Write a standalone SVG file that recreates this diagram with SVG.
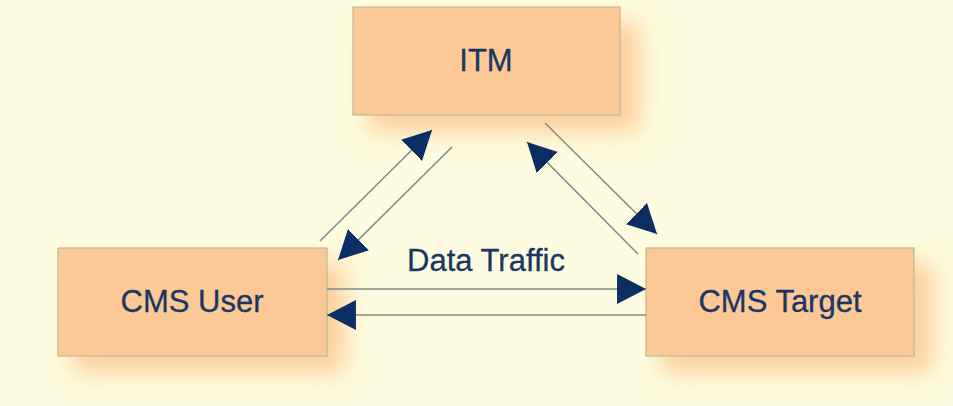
<svg xmlns="http://www.w3.org/2000/svg" width="953" height="406" viewBox="0 0 953 406">
  <style>
    .box { fill: #fcc895; stroke: #bdb896; stroke-width: 1.2; }
    .shadow { fill: #fbc48a; opacity: 0.8; filter: url(#soft); }
    .label { font-family: "Liberation Sans", Arial, sans-serif; font-size: 31px; fill: #1a3764; text-anchor: middle; stroke: #1a3764; stroke-width: 0.3; }
    .link { stroke: #7f8c8a; stroke-width: 1.6; fill: none; marker-end: url(#head); }
  </style>
  <defs>
    <filter id="soft" x="-30%" y="-30%" width="160%" height="160%">
      <feGaussianBlur stdDeviation="12"/>
    </filter>
    <marker id="head" markerUnits="userSpaceOnUse" markerWidth="30" markerHeight="30" viewBox="0 0 28 28" refX="27" refY="14" orient="auto">
      <path d="M0,0 L27,14 L0,28 Z" fill="#0b2f63"/>
    </marker>
  </defs>

  <rect x="0" y="0" width="953" height="406" fill="#fefce0"/>

  <g id="itm">
    <rect class="shadow" x="368" y="22" width="272" height="110"/>
    <rect class="box" x="353" y="7" width="267" height="108"/>
    <text class="label" x="486" y="71">ITM</text>
  </g>

  <g id="cms-user">
    <rect class="shadow" x="73" y="263" width="272" height="110"/>
    <rect class="box" x="58" y="248" width="269" height="108"/>
    <text class="label" x="192" y="312">CMS User</text>
  </g>

  <g id="cms-target">
    <rect class="shadow" x="661" y="263" width="272" height="110"/>
    <rect class="box" x="646" y="248" width="268" height="108"/>
    <text class="label" x="780" y="312">CMS Target</text>
  </g>

  <g id="connectors">
    <line class="link" x1="320" y1="241" x2="432" y2="130"/>
    <line class="link" x1="452" y1="147" x2="338" y2="260"/>
    <line class="link" x1="545" y1="123" x2="657" y2="234"/>
    <line class="link" x1="638" y1="254" x2="527" y2="142"/>
    <line class="link" x1="327" y1="289" x2="646" y2="289"/>
    <line class="link" x1="646" y1="315" x2="327" y2="315"/>
    <text class="label" x="486" y="271">Data Traffic</text>
  </g>
</svg>
